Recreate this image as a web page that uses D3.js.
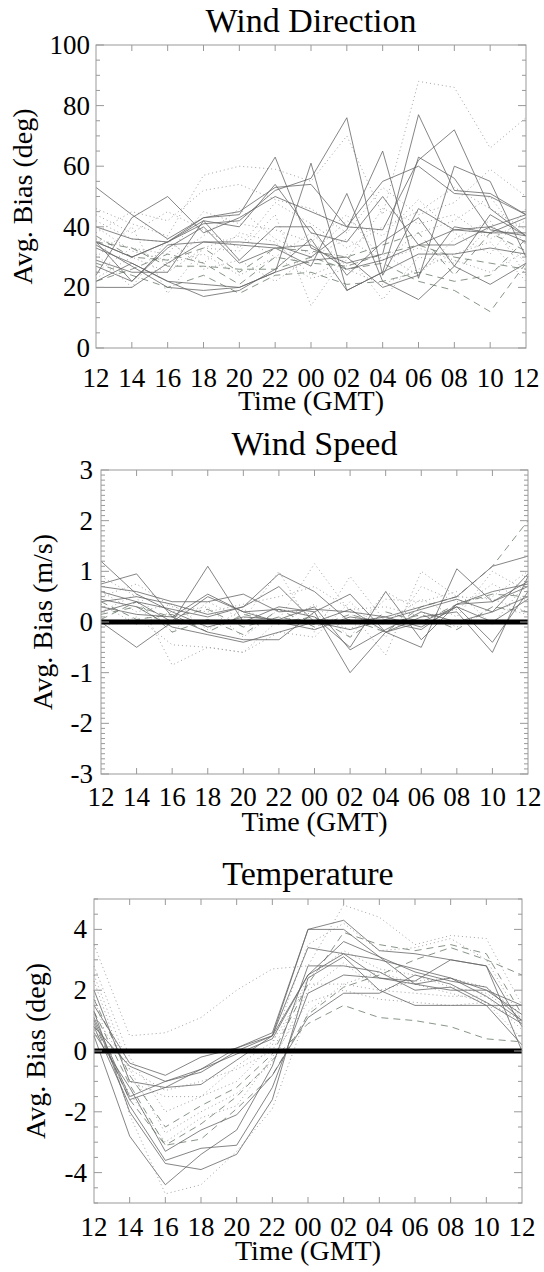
<!DOCTYPE html>
<html>
<head>
<meta charset="utf-8">
<script src="https://cdn.jsdelivr.net/npm/d3@7"></script>
</head>
<body style="margin:0">
<svg id="chart" width="544" height="1272"></svg>
<script>
/*global d3 */

var FONT = 'Liberation Serif';

var hours = ['12', '14', '16', '18', '20', '22', '00', '02', '04', '06', '08', '10', '12'];

// Wind direction bias (deg)
var dirSolid = [
    [53, 44, 36, 43, 45, 53, 54, 40, 39, 62, 72, 46, 37],
    [40, 36, 35, 41, 42, 52, 56, 76, 24, 46, 39, 40, 44],
    [35, 30, 35, 43, 44, 63, 33, 28, 31, 77, 52, 51, 44],
    [34, 27, 20, 19, 20, 25, 61, 19, 25, 63, 56, 39, 37],
    [20, 20, 28, 35, 35, 34, 30, 39, 65, 23, 60, 55, 30],
    [24, 43, 50, 38, 43, 50, 45, 40, 55, 60, 51, 50, 44],
    [29, 25, 25, 42, 29, 40, 40, 24, 35, 43, 27, 44, 37],
    [35, 22, 33, 40, 28, 33, 27, 51, 22, 16, 27, 21, 28],
    [33, 28, 22, 17, 19, 26, 36, 19, 25, 31, 31, 33, 31],
    [27, 22, 34, 35, 34, 33, 34, 26, 29, 34, 34, 40, 35],
    [35, 30, 35, 42, 40, 54, 38, 35, 50, 34, 39, 38, 43],
    [22, 28, 22, 21, 20, 25, 29, 30, 20, 24, 40, 38, 38]
];
var dirDotted = [
    [46, 41, 37, 57, 60, 59, 55, 70, 44, 88, 86, 66, 76],
    [38, 45, 42, 52, 54, 49, 46, 38, 53, 44, 48, 59, 50],
    [30, 40, 18, 33, 32, 44, 14, 31, 16, 30, 28, 40, 28],
    [42, 36, 35, 28, 38, 35, 24, 29, 46, 41, 44, 36, 42],
    [25, 33, 28, 31, 24, 30, 38, 27, 31, 24, 36, 42, 24],
    [40, 32, 29, 37, 46, 36, 31, 42, 37, 49, 38, 31, 46],
    [31, 20, 36, 26, 29, 22, 30, 36, 29, 33, 29, 25, 32],
    [44, 38, 45, 39, 33, 48, 41, 33, 40, 45, 53, 46, 39],
    [23, 30, 25, 33, 37, 30, 23, 26, 21, 26, 31, 35, 22],
    [36, 33, 31, 45, 41, 39, 35, 44, 29, 38, 42, 50, 34]
];
var dirDashed = [
    [35, 33, 27, 27, 26, 26, 30, 26, 28, 22, 19, 12, 28],
    [28, 24, 20, 24, 18, 24, 25, 21, 22, 25, 22, 24, 36],
    [37, 30, 29, 33, 25, 33, 32, 30, 34, 38, 24, 38, 32],
    [22, 26, 31, 28, 21, 30, 28, 27, 31, 34, 30, 28, 26]
];

// Wind speed bias (m/s)
var spdSolid = [
    [0.75, 0.95, 0.1, -0.2, -0.35, -0.35, 0.2, 0.55, -0.2, -0.5, 1.05, 0.4, 0.8],
    [0.0, -0.5, 0.0, 1.1, 0.0, 0.3, 0.2, -1.0, -0.2, 0.1, 0.2, -0.6, 0.9],
    [0.4, 0.5, 0.35, 0.15, 0.3, 0.95, 0.6, 0.0, 0.1, 0.3, 0.5, 1.1, 1.3],
    [0.6, 0.4, 0.0, 0.5, 0.2, 0.25, 0.1, -0.5, 0.6, -0.35, 0.35, 0.4, 0.7],
    [0.2, 0.4, 0.25, 0.1, 0.3, 0.7, 0.0, -0.15, 0.05, 0.25, 0.45, 0.2, 0.5],
    [0.7, 0.6, 0.4, 0.4, 0.55, 0.2, 0.25, 0.2, 0.1, -0.1, 0.3, -0.4, 0.6],
    [0.45, 0.3, -0.1, -0.25, -0.4, -0.2, 0.0, 0.25, -0.2, 0.0, 0.3, 0.0, 0.45],
    [1.2, 0.55, 0.2, -0.1, 0.1, 0.05, 0.3, -0.55, -0.15, 0.2, 0.0, 0.2, 0.95],
    [0.3, 0.15, 0.1, 0.55, 0.2, 0.0, -0.15, 0.1, 0.0, -0.15, 0.35, 0.6, 0.75]
];
var spdDotted = [
    [0.9, 0.5, -0.85, -0.5, -0.6, 0.05, 1.15, 0.2, -0.65, 1.0, 0.5, 0.45, 0.2],
    [0.2, 0.55, -0.2, 0.4, 0.05, 1.0, -0.2, 0.9, 0.0, 0.45, 0.1, 1.0, 0.6],
    [0.6, 0.2, 0.35, -0.15, 0.25, -0.05, 0.35, -0.3, 0.6, 0.2, -0.1, 0.3, 0.15],
    [-0.1, 0.1, -0.45, -0.5, -0.6, -0.2, -0.3, 0.4, -0.3, 0.7, 0.4, 0.5, 1.0],
    [0.5, 0.75, 0.3, 0.2, 0.35, 0.5, 0.7, 0.25, 0.3, 0.1, 0.25, 0.75, 0.4],
    [0.35, -0.05, 0.2, 0.3, -0.3, 0.25, 0.15, -0.15, 0.45, 0.4, 0.6, -0.05, 0.8]
];
var spdDashed = [
    [0.15, 0.3, 0.1, 0.25, -0.1, 0.1, -0.05, 0.05, -0.2, 0.3, 0.5, 1.1, 2.0],
    [0.4, 0.05, 0.15, -0.2, 0.15, 0.0, 0.1, -0.3, 0.2, 0.0, 0.35, 0.55, 0.5],
    [0.05, 0.4, -0.2, 0.05, -0.25, 0.25, -0.1, 0.15, -0.05, 0.15, -0.15, 0.3, 0.2]
];

// Temperature bias (deg)
var tmpSolid = [
    [1.5, -0.4, -0.8, -0.2, 0.1, 0.6, 4.0, 4.3, 3.3, 3.2, 3.0, 2.8, 0.0],
    [0.8, -0.5, -1.0, -0.7, 0.0, 0.5, 4.0, 4.0, 3.1, 2.6, 2.3, 2.1, 1.0],
    [2.0, -1.0, -1.2, -1.1, -0.3, 0.5, 3.4, 3.2, 3.0, 2.7, 2.4, 2.0, 1.5],
    [1.0, -1.6, -1.2, -0.6, 0.1, 0.5, 2.5, 3.2, 2.4, 2.2, 2.4, 1.8, 1.0],
    [0.5, -2.8, -4.4, -3.4, -2.6, -0.5, 2.8, 2.8, 2.6, 2.0, 2.1, 1.5, 0.2],
    [1.3, -2.0, -3.7, -3.9, -3.4, -1.6, 2.4, 3.1, 2.0, 1.5, 1.5, 1.5, 1.5],
    [0.8, -1.8, -3.6, -3.2, -3.1, -1.2, 1.9, 2.5, 2.4, 2.3, 3.0, 2.8, 0.8],
    [0.6, -1.2, -3.3, -2.6, -2.1, -0.8, 1.1, 1.9, 1.9, 2.5, 2.2, 1.6, 0.9],
    [1.1, -1.5, -1.0, -0.6, -0.1, 0.4, 2.5, 3.6, 3.1, 2.2, 2.0, 2.0, 1.2]
];
var tmpDotted = [
    [3.5, 0.5, 0.6, 1.1, 2.0, 2.7, 2.8, 4.8, 4.4, 3.5, 3.8, 3.7, 1.5],
    [2.8, -0.2, -2.0, -1.5, -1.0, 0.2, 3.5, 4.2, 3.3, 3.4, 3.7, 3.0, 1.0],
    [1.8, -2.1, -4.7, -4.4, -3.3, -1.9, 1.3, 2.2, 2.6, 2.2, 1.9, 1.6, 0.4],
    [1.2, -0.6, -2.7, -2.0, -1.4, -0.4, 2.0, 2.9, 2.0, 2.3, 2.4, 2.1, 1.2],
    [2.3, -1.0, -1.5, -1.5, -0.5, 0.3, 2.2, 2.2, 2.0, 1.9, 1.8, 1.8, 0.7],
    [0.7, -1.4, -3.0, -2.2, -1.8, -0.2, 1.6, 2.0, 1.7, 1.6, 1.5, 1.6, 1.0],
    [2.5, -0.6, -1.3, -1.0, -0.6, 0.0, 2.4, 3.3, 2.7, 2.5, 2.1, 1.9, 1.1]
];
var tmpDashed = [
    [1.3, -1.1, -3.1, -2.4, -1.5, -0.3, 0.9, 1.5, 1.1, 1.0, 0.8, 0.4, 0.3],
    [0.9, -1.6, -3.1, -2.9, -1.9, -0.8, 1.2, 2.1, 2.5, 3.0, 3.4, 3.0, 2.5],
    [1.7, -0.8, -2.5, -1.8, -1.2, -0.1, 2.2, 3.9, 3.5, 3.3, 3.5, 3.2, 1.2]
];

var styles = {
    solid: { color: '#666', dash: null, width: 0.8 },
    dotted: { color: '#999', dash: '1,3', width: 0.9 },
    dashed: { color: '#6a786a', dash: '7,5', width: 0.8 }
};

function Panel(config) {
    var $el = d3.select('#chart').append('g');
    var left = config.left, right = config.right, top = config.top, bottom = config.bottom;

    var x = d3.scaleLinear().domain([0, hours.length - 1]).range([left, right]);
    var y = d3.scaleLinear().domain(config.domain).range([bottom, top]);

    // series
    var line = d3.line()
        .x(function (d, i) { return x(i); })
        .y(function (d) { return y(d); });

    ['dotted', 'dashed', 'solid'].forEach(function (kind) {
        $el.append('g').selectAll('path')
            .data(config.series[kind])
            .join('path')
            .attr('d', line)
            .attr('fill', 'none')
            .attr('stroke', styles[kind].color)
            .attr('stroke-width', styles[kind].width)
            .attr('stroke-dasharray', styles[kind].dash);
    });

    if (config.zero) {
        $el.append('line')
            .attr('x1', left)
            .attr('x2', right)
            .attr('y1', y(0))
            .attr('y2', y(0))
            .attr('stroke', '#000')
            .attr('stroke-width', 5);
    }

    // frame
    $el.append('rect')
        .attr('x', left)
        .attr('y', top)
        .attr('width', right - left)
        .attr('height', bottom - top)
        .attr('fill', 'none')
        .attr('stroke', '#999');

    // x ticks (bottom and top, inward), y ticks (left and right, major and minor)
    var lo = config.domain[0], hi = config.domain[1];
    var minors = d3.range(0, Math.round((hi - lo) / config.minor) + 1).map(function (k) {
        return lo + k * config.minor;
    });
    var tickLen = function (d) {
        var r = d / config.major;
        return Math.abs(r - Math.round(r)) < 1e-6 ? 8 : 4;
    };
    var ticks = [];
    d3.range(1, hours.length - 1).forEach(function (i) {
        ticks.push([x(i), bottom, x(i), bottom - 6]);
        ticks.push([x(i), top, x(i), top + 6]);
    });
    minors.forEach(function (v) {
        ticks.push([left, y(v), left + tickLen(v), y(v)]);
        ticks.push([right, y(v), right - tickLen(v), y(v)]);
    });
    $el.append('g').selectAll('line')
        .data(ticks).join('line')
        .attr('x1', function (d) { return d[0]; })
        .attr('y1', function (d) { return d[1]; })
        .attr('x2', function (d) { return d[2]; })
        .attr('y2', function (d) { return d[3]; })
        .attr('stroke', '#999');

    // all texts
    var texts = [
        { t: config.title, x: (left + right) / 2, y: config.titleY, size: 34, anchor: 'middle' },
        { t: 'Time (GMT)', x: (left + right) / 2, y: config.xTitleY, size: 28, anchor: 'middle' }
    ];
    config.yTicks.forEach(function (v) {
        texts.push({ t: String(v), x: config.yLabelX, y: y(v) + 9, size: 27, anchor: 'end' });
    });
    hours.forEach(function (h, i) {
        texts.push({ t: h, x: x(i), y: config.xLabelY, size: 27, anchor: 'middle' });
    });
    $el.append('g').selectAll('text')
        .data(texts).join('text')
        .attr('x', function (d) { return d.x; })
        .attr('y', function (d) { return d.y; })
        .attr('text-anchor', function (d) { return d.anchor; })
        .attr('font-family', FONT)
        .style('font-family', FONT, 'important')
        .style('font-size', function (d) { return d.size + 'px'; })
        .text(function (d) { return d.t; });

    $el.append('g').selectAll('text')
        .data([config.yTitle]).join('text')
        .attr('transform', 'translate(' + (config.yTitleX + 10) + ',' + ((top + bottom) / 2) + ') rotate(-90)')
        .attr('text-anchor', 'middle')
        .attr('font-family', FONT)
        .style('font-family', FONT, 'important')
        .style('font-size', '28px')
        .text(function (d) { return d; });

    return $el;
}

Panel({
    title: 'Wind Direction', titleY: 32,
    left: 96, right: 526, top: 45, bottom: 348,
    domain: [0, 100], major: 20, minor: 5,
    yTicks: [0, 20, 40, 60, 80, 100], yLabelX: 90,
    xLabelY: 387, xTitleY: 410, yTitle: 'Avg. Bias (deg)', yTitleX: 22,
    series: { solid: dirSolid, dotted: dirDotted, dashed: dirDashed }
});

Panel({
    title: 'Wind Speed', titleY: 455,
    left: 101, right: 528, top: 470, bottom: 774,
    domain: [-3, 3], major: 1, minor: 0.1,
    yTicks: [-3, -2, -1, 0, 1, 2, 3], yLabelX: 93,
    xLabelY: 806, xTitleY: 831, yTitle: 'Avg. Bias (m/s)', yTitleX: 42,
    zero: true,
    series: { solid: spdSolid, dotted: spdDotted, dashed: spdDashed }
});

Panel({
    title: 'Temperature', titleY: 885,
    left: 94, right: 522, top: 899, bottom: 1203,
    domain: [-5, 5], major: 2, minor: 0.5,
    yTicks: [-4, -2, 0, 2, 4], yLabelX: 87,
    xLabelY: 1236, xTitleY: 1260, yTitle: 'Avg. Bias (deg)', yTitleX: 35,
    zero: true,
    series: { solid: tmpSolid, dotted: tmpDotted, dashed: tmpDashed }
});
</script>
</body>
</html>
